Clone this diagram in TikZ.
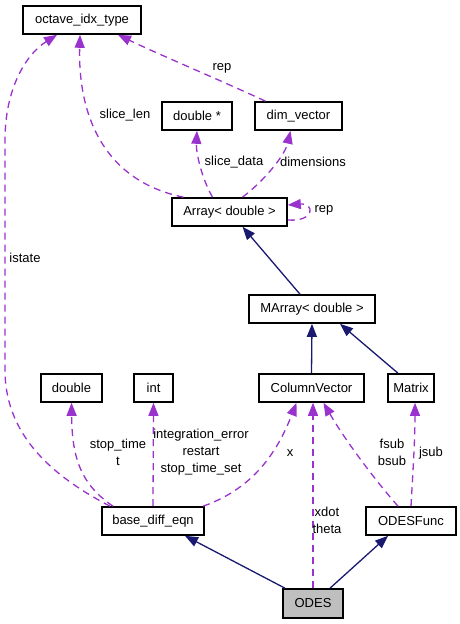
\documentclass[tikz,border=0pt]{standalone}
\usepackage{fontspec}
\setmainfont{Liberation Sans}
\usetikzlibrary{arrows.meta}
\definecolor{depcol}{HTML}{9A32CD}
\definecolor{inhcol}{HTML}{191970}
\definecolor{hilite}{HTML}{BFBFBF}
\begin{document}
\begin{tikzpicture}[x=1pt, y=-1pt, every node/.style={font=\fontsize{13}{17}\selectfont},
  cls/.style={draw, line width=1.6pt, minimum height=28pt, inner sep=0pt},
  dep/.style={depcol, line width=1.3pt, dash pattern=on 7pt off 5pt, -{Triangle[length=13pt,width=10pt]}},
  inh/.style={inhcol, line width=1.3pt, -{Triangle[length=13pt,width=10pt]}},
  lbl/.style={align=center, inner sep=0pt}]
\useasboundingbox (0,0) rectangle (460,624);
% classes
\foreach \n/\x/\y/\w/\t in {oit/82/20/118/octave\_idx\_type, dptr/197/116/70/double *,
  dimv/298.5/116/87/dim\_vector, arr/229.5/212/115/Array< double >,
  marr/312/309/126/MArray< double >, dbl/71.5/388/61/double, int/153.5/388/39/int,
  cvec/311.5/388/105/ColumnVector, mat/411/388/46/Matrix,
  bde/153/521/102/base\_diff\_eqn, odesf/411/521/90/ODESFunc}
  \node[cls, minimum width=\w] (\n) at (\x,\y) {\t};
\node[cls, minimum width=60, minimum height=29, fill=hilite] (odes) at (313,603.5) {ODES};
% inheritance
\draw[inh] ([xshift=-12]marr.north) -- ([xshift=13]arr.south);
\draw[inh] (cvec.north) -- (marr.south);
\draw[inh] ([xshift=-13]mat.north) -- ([xshift=28]marr.south);
\draw[inh] ([xshift=-28]odes.north) -- ([xshift=32]bde.south);
\draw[inh] ([xshift=17]odes.north) -- ([xshift=-23]odesf.south);
% usage
\draw[dep] ([xshift=-43]bde.north) .. controls (60,480) and (5,440) .. (5,370) -- (5,140)
  .. controls (5,90) and (25,55) .. ([xshift=-25]oit.south);
\draw[dep] ([xshift=-46]arr.north) .. controls (100,180) and (78,110) .. ([xshift=-2]oit.south);
\draw[dep] ([xshift=-33]dimv.north) .. controls (220,80) and (160,55) .. ([xshift=36]oit.south);
\draw[dep] ([xshift=-17]arr.north) .. controls (200,175) and (196,150) .. (dptr.south);
\draw[dep] ([xshift=13]arr.north) .. controls (265,180) and (285,155) .. ([xshift=-8]dimv.south);
\draw[dep] ([yshift=-8]arr.east) .. controls (315,222) and (315,203) .. ([yshift=7]arr.east);
\draw[dep] ([xshift=-40]bde.north) .. controls (82,485) and (72,460) .. (dbl.south);
\draw[dep] (bde.north) -- (int.south);
\draw[dep] ([xshift=50]bde.north) .. controls (255,488) and (278,450) .. ([xshift=-15]cvec.south);
\draw[dep] (odes.north) -- ([xshift=1.5]cvec.south);
\draw[dep] ([xshift=-13]odesf.north) .. controls (375,480) and (345,440) .. ([xshift=12]cvec.south);
\draw[dep] (odesf.north) .. controls (413,470) and (415,440) .. ([xshift=4]mat.south);
% labels
\node[lbl] (listate) at (25,258) {istate};
\node[lbl] (lslen) at (125,115) {slice\_len};
\node[lbl] (lrep) at (222,68) {rep};
\node[lbl] (lsdata) at (234,162) {slice\_data};
\node[lbl] (ldims) at (313,162) {dimensions};
\node[lbl] (lrepself) at (324,210) {rep};
\node[lbl] (lstop) at (118,452) {stop\_time\\t};
\node[lbl] (lint) at (201,452) {integration\_error\\restart\\stop\_time\_set};
\node[lbl] (lx) at (290,453) {x};
\node[lbl] (lxdot) at (327,520) {xdot\\theta};
\node[lbl] (lfsub) at (392,452) {fsub\\bsub};
\node[lbl] (ljsub) at (431,453) {jsub};
\end{tikzpicture}
\end{document}
